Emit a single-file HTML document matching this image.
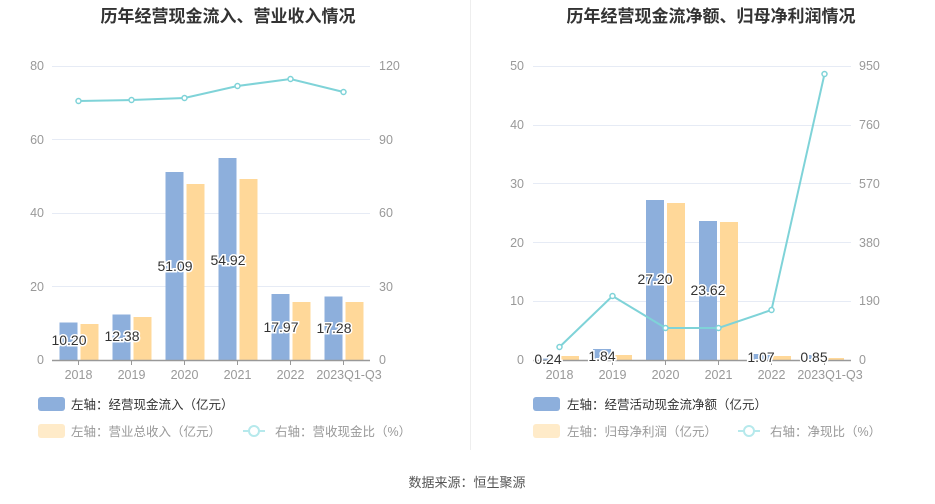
<!DOCTYPE html>
<html><head><meta charset="utf-8"><style>
body{margin:0;background:#fff;}
svg{display:block;font-family:"Liberation Sans","Noto Sans CJK SC",sans-serif;}
.ax{fill:#999;font-size:12.5px;}
.lb{fill:#333;font-size:14px;stroke:#fff;stroke-width:3px;paint-order:stroke;}
.lg{font-size:12.5px;}
</style></head><body>
<svg width="935" height="504" viewBox="0 0 935 504">
<text x="228" y="22" text-anchor="middle" font-size="17" font-weight="bold" fill="#333">历年经营现金流入、营业收入情况</text>
<text x="711" y="22" text-anchor="middle" font-size="17" font-weight="bold" fill="#333">历年经营现金流净额、归母净利润情况</text>
<line x1="470.5" y1="0" x2="470.5" y2="450" stroke="#eee"/>
<g stroke="#e6ebf5">
<line x1="52" y1="66.5" x2="370" y2="66.5"/><line x1="52" y1="139.5" x2="370" y2="139.5"/>
<line x1="52" y1="213.5" x2="370" y2="213.5"/><line x1="52" y1="286.5" x2="370" y2="286.5"/>
</g>
<g class="ax" text-anchor="end">
<text x="44" y="70">80</text><text x="44" y="144">60</text><text x="44" y="217">40</text><text x="44" y="291">20</text><text x="44" y="364">0</text>
</g>
<g class="ax">
<text x="379" y="70">120</text><text x="379" y="144">90</text><text x="379" y="217">60</text><text x="379" y="291">30</text><text x="379" y="364">0</text>
</g>
<g fill="#8dafdc">
<rect x="59.5" y="322.5" width="18" height="37.5"/><rect x="112.5" y="314.5" width="18" height="45.5"/>
<rect x="165.5" y="172" width="18" height="188"/><rect x="218.5" y="158" width="18" height="202"/>
<rect x="271.5" y="294" width="18" height="66"/><rect x="324.5" y="296.5" width="18" height="63.5"/>
</g>
<g fill="#ffd899">
<rect x="80.5" y="324" width="18" height="36"/><rect x="133.5" y="317" width="18" height="43"/>
<rect x="186.5" y="184" width="18" height="176"/><rect x="239.5" y="179" width="18" height="181"/>
<rect x="292.5" y="302" width="18" height="58"/><rect x="345.5" y="302" width="18" height="58"/>
</g>
<line x1="52" y1="360.5" x2="370" y2="360.5" stroke="#999" stroke-width="1.5"/>
<g stroke="#999"><line x1="78.5" y1="360" x2="78.5" y2="365"/><line x1="131.5" y1="360" x2="131.5" y2="365"/><line x1="184.5" y1="360" x2="184.5" y2="365"/><line x1="237.5" y1="360" x2="237.5" y2="365"/><line x1="290.5" y1="360" x2="290.5" y2="365"/><line x1="343.5" y1="360" x2="343.5" y2="365"/></g>
<g class="ax" text-anchor="middle">
<text x="78.5" y="379">2018</text><text x="131.5" y="379">2019</text><text x="184.5" y="379">2020</text><text x="237.5" y="379">2021</text><text x="290.5" y="379">2022</text><text x="349" y="379">2023Q1-Q3</text>
</g>
<g class="lb" text-anchor="middle">
<text x="69" y="345">10.20</text><text x="122" y="341">12.38</text><text x="175" y="271">51.09</text><text x="228" y="265">54.92</text><text x="281" y="332">17.97</text><text x="334" y="333">17.28</text>
</g>
<polyline points="78.5,101 131.5,100 184.5,98 237.5,86 290.5,79 343.5,92" fill="none" stroke="#7fd3d8" stroke-width="2"/>
<g fill="#fff" stroke="#7fd3d8" stroke-width="1.5">
<circle cx="78.5" cy="101" r="2.5"/><circle cx="131.5" cy="100" r="2.5"/><circle cx="184.5" cy="98" r="2.5"/><circle cx="237.5" cy="86" r="2.5"/><circle cx="290.5" cy="79" r="2.5"/><circle cx="343.5" cy="92" r="2.5"/>
</g>
<g stroke="#e6ebf5">
<line x1="533" y1="66.5" x2="851" y2="66.5"/><line x1="533" y1="125.5" x2="851" y2="125.5"/>
<line x1="533" y1="183.5" x2="851" y2="183.5"/><line x1="533" y1="242.5" x2="851" y2="242.5"/><line x1="533" y1="301.5" x2="851" y2="301.5"/>
</g>
<g class="ax" text-anchor="end">
<text x="524" y="70">50</text><text x="524" y="129">40</text><text x="524" y="188">30</text><text x="524" y="247">20</text><text x="524" y="305">10</text><text x="524" y="364">0</text>
</g>
<g class="ax">
<text x="859" y="70">950</text><text x="859" y="129">760</text><text x="859" y="188">570</text><text x="859" y="247">380</text><text x="859" y="305">190</text><text x="859" y="364">0</text>
</g>
<g fill="#8dafdc">
<rect x="540" y="358.6" width="18" height="1.4"/><rect x="593" y="349" width="18" height="11"/>
<rect x="646" y="200" width="18" height="160"/><rect x="699" y="221" width="18" height="139"/>
<rect x="752" y="354" width="18" height="6"/><rect x="805" y="355" width="18" height="5"/>
</g>
<g fill="#ffd899">
<rect x="561" y="356" width="18" height="4"/><rect x="614" y="355" width="18" height="5"/>
<rect x="667" y="203" width="18" height="157"/><rect x="720" y="222" width="18" height="138"/>
<rect x="773" y="356" width="18" height="4"/><rect x="826" y="358" width="18" height="2"/>
</g>
<line x1="533" y1="360.5" x2="851" y2="360.5" stroke="#999" stroke-width="1.5"/>
<g stroke="#999"><line x1="559.5" y1="360" x2="559.5" y2="365"/><line x1="612.5" y1="360" x2="612.5" y2="365"/><line x1="665.5" y1="360" x2="665.5" y2="365"/><line x1="718.5" y1="360" x2="718.5" y2="365"/><line x1="771.5" y1="360" x2="771.5" y2="365"/><line x1="824.5" y1="360" x2="824.5" y2="365"/></g>
<g class="ax" text-anchor="middle">
<text x="559.5" y="379">2018</text><text x="612.5" y="379">2019</text><text x="665.5" y="379">2020</text><text x="718.5" y="379">2021</text><text x="771.5" y="379">2022</text><text x="830" y="379">2023Q1-Q3</text>
</g>
<g class="lb" text-anchor="middle">
<text x="548" y="364">0.24</text><text x="602" y="361">1.84</text><text x="655" y="284">27.20</text><text x="708" y="295">23.62</text><text x="761" y="362">1.07</text><text x="814" y="362">0.85</text>
</g>
<polyline points="559.5,347 612.5,296 665.5,328 718.5,328 771.5,310 824.5,74" fill="none" stroke="#7fd3d8" stroke-width="2"/>
<g fill="#fff" stroke="#7fd3d8" stroke-width="1.5">
<circle cx="559.5" cy="347" r="2.5"/><circle cx="612.5" cy="296" r="2.5"/><circle cx="665.5" cy="328" r="2.5"/><circle cx="718.5" cy="328" r="2.5"/><circle cx="771.5" cy="310" r="2.5"/><circle cx="824.5" cy="74" r="2.5"/>
</g>
<rect x="38" y="397" width="27" height="14" rx="3" fill="#8dafdc"/>
<text class="lg" x="71" y="409" fill="#333">左轴：经营现金流入（亿元）</text>
<rect x="38" y="424" width="27" height="14" rx="3" fill="#ffebc9"/>
<text class="lg" x="71" y="436" fill="#999">左轴：营业总收入（亿元）</text>
<line x1="243" y1="431" x2="265" y2="431" stroke="#b6e9ec" stroke-width="2"/><circle cx="254" cy="431" r="5" fill="#fff" stroke="#b6e9ec" stroke-width="2"/>
<text class="lg" x="275" y="436" fill="#999">右轴：营收现金比（%）</text>
<rect x="533" y="397" width="27" height="14" rx="3" fill="#8dafdc"/>
<text class="lg" x="567" y="409" fill="#333">左轴：经营活动现金流净额（亿元）</text>
<rect x="533" y="424" width="27" height="14" rx="3" fill="#ffebc9"/>
<text class="lg" x="567" y="436" fill="#999">左轴：归母净利润（亿元）</text>
<line x1="738" y1="431" x2="760" y2="431" stroke="#b6e9ec" stroke-width="2"/><circle cx="749" cy="431" r="5" fill="#fff" stroke="#b6e9ec" stroke-width="2"/>
<text class="lg" x="770" y="436" fill="#999">右轴：净现比（%）</text>
<text x="467" y="487" text-anchor="middle" font-size="13" fill="#555">数据来源：恒生聚源</text>
</svg>
</body></html>
